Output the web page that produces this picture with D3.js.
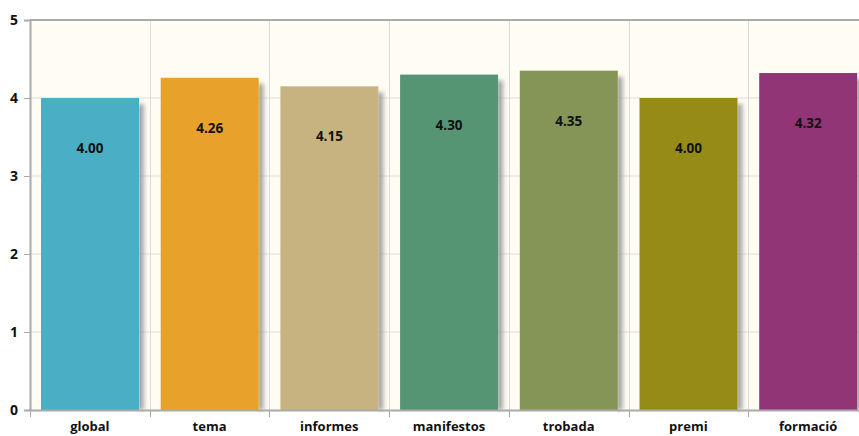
<!DOCTYPE html>
<html><head><meta charset="utf-8">
<script src="https://cdn.jsdelivr.net/npm/d3@7"></script>
<style>body{margin:0;background:#fff;} svg{display:block;font-family:"Open Sans","DejaVu Sans",sans-serif;}</style>
</head><body>
<svg id="c" width="859" height="436"></svg>
<script>
const categories = ["global","tema","informes","manifestos","trobada","premi","formació"];
const values = [4.00,4.26,4.15,4.30,4.35,4.00,4.32];
const colors = ["#4aafc4","#e8a22b","#c6b380","#559574","#849557","#958b16","#923577"];
const yTicks = [0,1,2,3,4,5];

(function(){
const svg = d3.select("#c");
const mLeft = 30, mTop = 20, mBottom = 410, bandW = 119.7;
const x = d3.scaleBand().domain(categories).range([mLeft, mLeft + bandW*categories.length]).paddingInner(0).paddingOuter(0);
const y = d3.scaleLinear().domain([0,5]).range([mBottom, mTop]);

const defs = svg.append("defs");
const sg = defs.append("linearGradient").attr("id","sh").attr("x1","0").attr("x2","1");
sg.append("stop").attr("offset","0").attr("stop-color","#808080").attr("stop-opacity",0.9);
sg.append("stop").attr("offset","0.5").attr("stop-color","#a8a8a8").attr("stop-opacity",0.6);
sg.append("stop").attr("offset","1").attr("stop-color","#ddd").attr("stop-opacity",0);
const fl = defs.append("filter").attr("id","blur").attr("x","-20%").attr("y","-5%").attr("width","140%").attr("height","110%");
fl.append("feGaussianBlur").attr("stdDeviation","0.8 2");

svg.append("rect").attr("x",mLeft).attr("y",mTop).attr("width",859-mLeft).attr("height",mBottom-mTop).attr("fill","#fffcf4");

svg.append("g").selectAll("line").data(yTicks.filter(d=>d>0&&d<5)).join("line")
  .attr("x1",mLeft).attr("x2",859).attr("y1",d=>y(d)).attr("y2",d=>y(d))
  .attr("stroke","#dcdcd6").attr("stroke-width",1);
svg.append("g").selectAll("line").data(categories.slice(1)).join("line")
  .attr("x1",d=>Math.round(x(d))+0.5).attr("x2",d=>Math.round(x(d))+0.5).attr("y1",mTop).attr("y2",mBottom)
  .attr("stroke","#dcdcd6").attr("stroke-width",1);

const barOff = 11, barW = 98;
svg.append("g").selectAll("rect").data(categories).join("rect")
  .attr("x",d=>x(d)+barOff+barW).attr("y",(d,i)=>y(values[i])+6)
  .attr("width",9).attr("height",(d,i)=>mBottom-y(values[i])-6)
  .attr("fill","url(#sh)").attr("filter","url(#blur)");
svg.append("g").selectAll("rect").data(categories).join("rect")
  .attr("x",d=>x(d)+barOff).attr("y",(d,i)=>y(values[i]))
  .attr("width",barW).attr("height",(d,i)=>mBottom-y(values[i]))
  .attr("fill",(d,i)=>colors[i]);
svg.append("g").selectAll("text").data(categories).join("text")
  .attr("x",d=>x(d)+barOff+barW/2).attr("y",(d,i)=>y(values[i])+55)
  .attr("text-anchor","middle").attr("font-size",13.5).attr("font-weight","bold").attr("fill","#111")
  .text((d,i)=>values[i].toFixed(2));

svg.append("line").attr("x1",mLeft).attr("x2",859).attr("y1",mTop).attr("y2",mTop).attr("stroke","#aaa").attr("stroke-width",2);

const ya = svg.append("g").attr("transform",`translate(${mLeft},0)`)
  .call(d3.axisLeft(y).tickValues(yTicks).tickSize(6).tickPadding(6).tickFormat(d3.format("d")));
ya.select(".domain").attr("stroke","#aaa").attr("stroke-width",2);
ya.selectAll(".tick line").attr("stroke","#aaa");
ya.selectAll("text").attr("font-size",14).attr("font-weight","bold").attr("fill","#111").attr("font-family","'Open Sans','DejaVu Sans',sans-serif");

const xa = svg.append("g").attr("transform",`translate(0,${mBottom})`)
  .call(d3.axisBottom(x).tickSize(0).tickPadding(12));
xa.select(".domain").attr("stroke","#aaa").attr("stroke-width",2);
xa.selectAll("text").attr("font-size",13).attr("font-weight","bold").attr("fill","#111").attr("font-family","'Open Sans','DejaVu Sans',sans-serif");
svg.append("g").selectAll("line").data(categories).join("line")
  .attr("x1",d=>Math.round(x(d))+0.5).attr("x2",d=>Math.round(x(d))+0.5).attr("y1",mBottom).attr("y2",mBottom+7)
  .attr("stroke","#aaa");
})();
</script>
</body></html>
